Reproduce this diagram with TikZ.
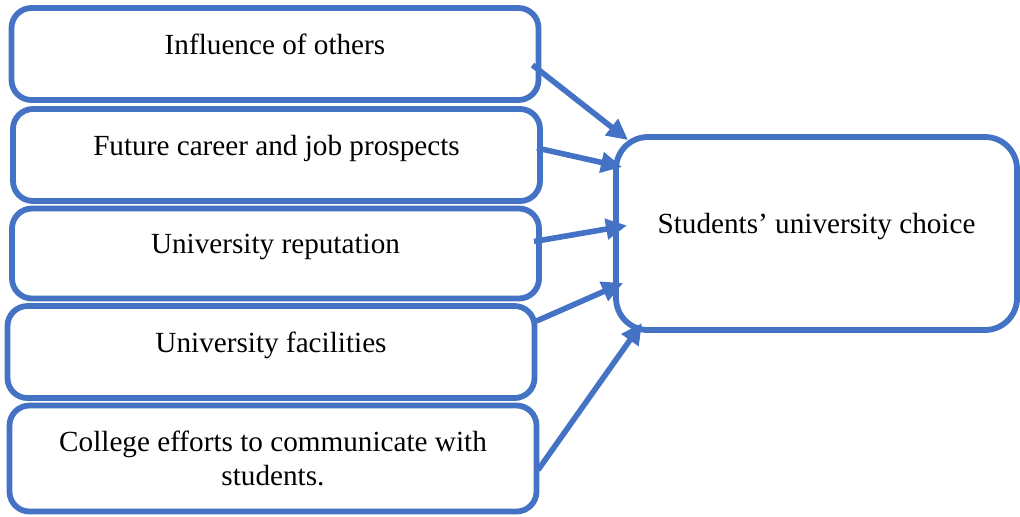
\documentclass[tikz,border=0pt]{standalone}
\usepackage{fontspec}
\setmainfont{Liberation Serif}
\usetikzlibrary{arrows.meta, calc}
\definecolor{boxblue}{HTML}{4472C4}
\tikzstyle{every node}=[font=\fontsize{14.6}{17}\selectfont, outer sep=0pt]
\tikzstyle{factor}=[draw=boxblue, line width=2.9pt, rounded corners=10pt, minimum width=263.5pt, minimum height=46pt, align=center]
\tikzstyle{oneline}=[text height=7pt, text depth=7pt]
\tikzstyle{outcome}=[draw=boxblue, line width=2.9pt, rounded corners=16pt, minimum width=200.5pt, minimum height=96.5pt, text height=7pt, text depth=7pt]
\tikzstyle{link}=[draw=boxblue, line width=2.8pt, -{Triangle[length=10.5pt, width=10pt]}]

\begin{document}
\begin{tikzpicture}[x=0.5pt, y=-0.5pt]
    \useasboundingbox (0,0) rectangle (1020,516);
% Factors
    \node[factor, oneline] (inf) at (275,54) {Influence of others};
    \node[factor, oneline] (job) at (276.5,155) {Future career and job prospects};
    \node[factor, oneline, minimum height=45pt] (rep) at (275.5,253.5) {University reputation};
    \node[factor, oneline] (fac) at (271,352) {University facilities};
    \node[factor, minimum height=53pt] (com) at (273,458.5) {College efforts to communicate with\\students.};
% Outcome
    \node[outcome] (choice) at (816.5,233.5) {Students’ university choice};
% Arrows
    \draw[link] ($(inf.east)+(-6,11)$) -- ($(choice.north west)+(12,3)$);
    \draw[link] ($(job.east)+(-3,-7)$) -- ($(choice.north west)+(6,30)$);
    \draw[link] ($(rep.east)+(-5,-12)$) -- ($(choice.west)+(11,-8)$);
    \draw[link] ($(fac.north east)+(2,15)$) -- ($(choice.south west)+(7,-47)$);
    \draw[link] ($(com.east)+(1.5,11.5)$) -- ($(choice.south west)+(26,-7)$);
\end{tikzpicture}
\end{document}
